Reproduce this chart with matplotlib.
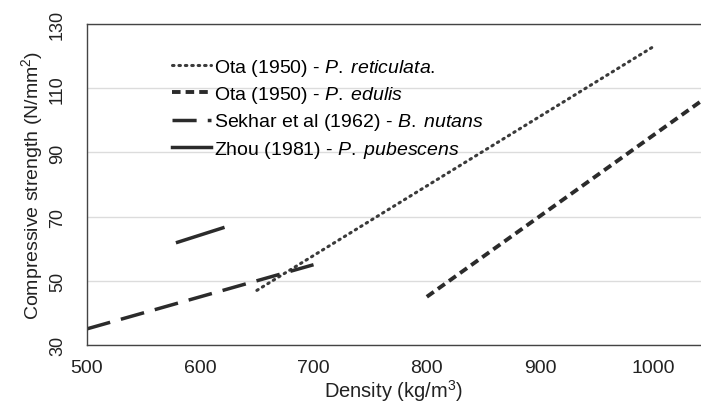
import matplotlib
matplotlib.use("Agg")
import matplotlib.pyplot as plt

plt.rcParams['font.family'] = ['Liberation Sans', 'DejaVu Sans']
plt.rcParams['mathtext.fontset'] = 'custom'
plt.rcParams['mathtext.rm'] = 'Liberation Sans'
plt.rcParams['mathtext.it'] = 'Liberation Sans:italic'

# density (kg/m3) end points and compressive strength (N/mm2) for each fit
ota_ret_x = [650, 1000]
ota_ret_y = [47, 123]
ota_edu_x = [800, 1050]
ota_edu_y = [45, 108]
sekhar_x = [500, 700]
sekhar_y = [35, 55]
zhou_x = [580, 620]
zhou_y = [62, 66.5]

x_ticks = [500, 600, 700, 800, 900, 1000]
y_ticks = [30, 50, 70, 90, 110, 130]

ink = "#2b2b2b"
txt = "#222222"


def species(genus, name):
    # italic species name with a narrow gap after the genus initial
    return r"$\it{" + genus + r"\;" + name + r"}$"


fig = plt.figure(figsize=(7.01, 4.06), dpi=100)
ax = fig.add_axes([0.124, 0.148, 0.876, 0.79])

ax.plot(ota_ret_x, ota_ret_y, color="#3a3a3a", linewidth=2.2,
        linestyle=(0, (0.5, 1.6)), dash_capstyle="round",
        label="Ota (1950) - " + species("P.", "reticulata") + ".")
ax.plot(ota_edu_x, ota_edu_y, color=ink, linewidth=2.8,
        linestyle=(0, (2.2, 1.3)), label="Ota (1950) - " + species("P.", "edulis"))
ax.plot(sekhar_x, sekhar_y, color=ink, linewidth=2.5,
        linestyle=(0, (6.95, 3.2)),
        label="Sekhar et al (1962) - " + species("B.", "nutans"))
ax.plot(zhou_x, zhou_y, color=ink, linewidth=2.5,
        label="Zhou (1981) - " + species("P.", "pubescens"))

ax.set_xlim(500, 1042)
ax.set_ylim(30, 130)
ax.set_xticks(x_ticks)
ax.set_yticks(y_ticks)
ax.tick_params(length=0, colors=txt)
ax.tick_params(axis="x", labelsize=14, pad=10)
ax.tick_params(axis="y", labelsize=13, pad=15)
for lbl in ax.get_yticklabels():
    lbl.set_rotation(90)
    lbl.set_va("center")

ax.grid(axis="y", color="#dcdcdc", linewidth=1)
ax.set_axisbelow(True)
for side in ["top", "left", "bottom"]:
    ax.spines[side].set_color("#444444")
    ax.spines[side].set_linewidth(1)
ax.spines["right"].set_visible(False)

ax.set_xlabel("Density (kg/m$^3$)", fontsize=14.5, color=txt, labelpad=1)
ax.set_ylabel("Compressive strength (N/mm$^2$)", fontsize=14, color=txt, labelpad=3)

ax.legend(loc="upper left", bbox_to_anchor=(0.138, 0.898), frameon=False,
          fontsize=14, handlelength=2.0, handletextpad=0.2,
          labelspacing=0.32, borderpad=0, borderaxespad=0)

plt.savefig("out.png", dpi=100)
plt.close()
